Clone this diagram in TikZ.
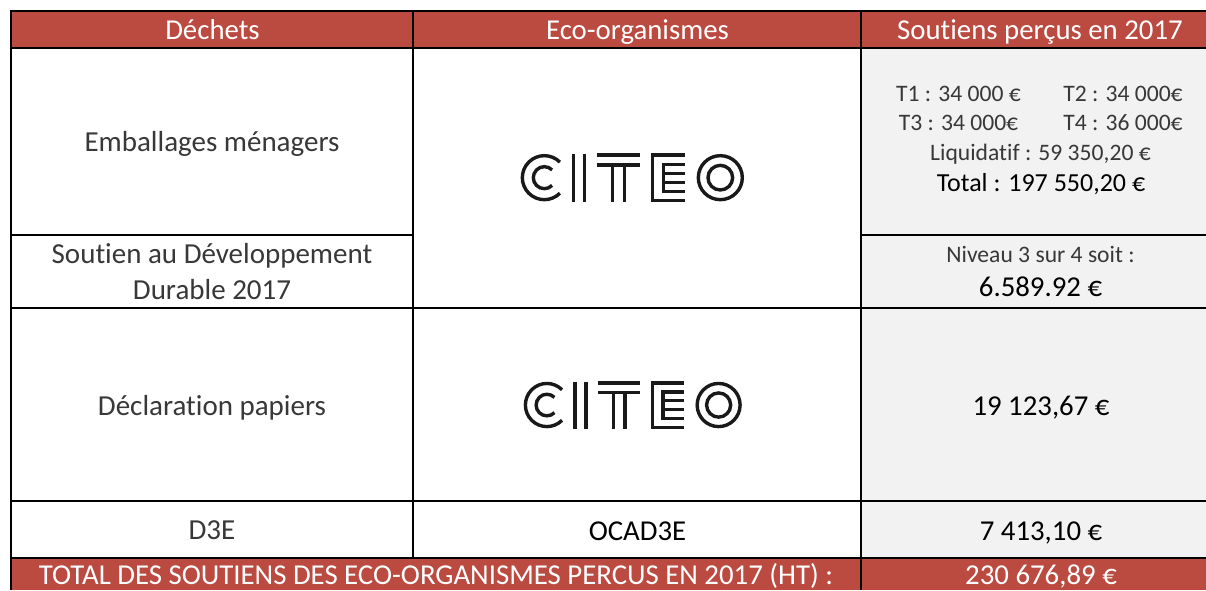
\documentclass[tikz,border=0pt]{standalone}
\usepackage{fontspec}
\setmainfont[Ligatures=NoCommon]{Carlito}
\definecolor{headred}{HTML}{BB4A41}
\definecolor{cellgray}{HTML}{F2F2F2}
\definecolor{lighttext}{HTML}{383838}
\newcommand{\fsz}[1]{\fontsize{#1}{#1}\selectfont}
\tikzset{
  rule/.style={line width=2pt,black},
  headtxt/.style={text=white,font=\fsz{28.8},inner sep=0pt,anchor=base},
  lighttxt/.style={text=lighttext,font=\fsz{29},inner sep=0pt,anchor=base},
  smalltxt/.style={text=lighttext,font=\fsz{23.6},inner sep=0pt,anchor=base},
  darktxt/.style={text=black,font=\fsz{28.8},inner sep=0pt,anchor=base},
  logoline/.style={line width=3.4pt,black!90},
}
\begin{document}
\begin{tikzpicture}[x=1pt,y=-1pt]
\useasboundingbox (0,0) rectangle (1206,590);
\fill[white] (0,0) rectangle (1206,590);
% fills
\fill[headred] (12,12) rectangle (1206,48);
\fill[headred] (12,557) rectangle (1206,590);
\fill[cellgray] (861,48) rectangle (1206,557);
% rules
\draw[rule] (10,11) -- (1206,11);
\draw[rule] (11,47.7) -- (1206,47.7);
\draw[rule] (11,235) -- (413,235);
\draw[rule] (861,235) -- (1206,235);
\draw[rule] (11,307.5) -- (1206,307.5);
\draw[rule] (11,501) -- (1206,501);
\draw[rule] (11,557.5) -- (1206,557.5);
\draw[rule] (11,10) -- (11,590);
\draw[rule] (413,10) -- (413,557.5);
\draw[rule] (861,10) -- (861,590);
% header
\node[headtxt] (h1) at (212.5,39.3) {Déchets};
\node[headtxt] (h2) at (637.5,39.3) {Eco-organismes};
\node[headtxt] (h3) at (1040,39.3) {Soutiens perçus en 2017};
% left column
\node[lighttxt] (c1) at (212,151) {Emballages ménagers};
\node[lighttxt] (c2a) at (212,263) {Soutien au Développement};
\node[lighttxt] (c2b) at (212,299) {Durable 2017};
\node[lighttxt] (c3) at (212,415) {Déclaration papiers};
\node[lighttxt] (c4) at (212,539.3) {D3E};
% middle
\node[darktxt] (m4) at (637.5,540) {OCAD3E};
% right
\node[smalltxt] (t1) at (958.5,101) {T1 : 34 000 €};
\node[smalltxt] (t2) at (1123,101) {T2 : 34 000€};
\node[smalltxt] (t3) at (958.5,130) {T3 : 34 000€};
\node[smalltxt] (t4) at (1123,130) {T4 : 36 000€};
\node[smalltxt] (liq) at (1040.5,160) {Liquidatif : 59 350,20 €};
\node[darktxt,font=\fsz{26}] (tot) at (1041,191.7) {Total : 197 550,20 €};
\node[smalltxt] (niv) at (1040.5,262) {Niveau 3 sur 4 soit :};
\node[darktxt] (v2) at (1040.5,296.7) {6.589.92 €};
\node[darktxt] (v3) at (1041,415) {19 123,67 €};
\node[darktxt] (v4) at (1041,540) {7 413,10 €};
% footer
\node[headtxt] (f1) at (436,584.5) {TOTAL DES SOUTIENS DES ECO-ORGANISMES PERCUS EN 2017 (HT) :};
\node[headtxt] (f2) at (1041,584.5) {230 676,89 €};
% logos, in units of the enlarged logo
\foreach \ox/\oy/\sx/\sy in {500/130/0.3333/0.3333, 503.6/358.3/0.3253/0.3267}{
\begin{scope}[shift={(\ox,\oy)},x=\sx pt,y=-\sy pt]
  \draw[logoline] (133,143) ++(45:66) arc[start angle=45,end angle=315,radius=66];
  \draw[logoline] (133,143) ++(45:33) arc[start angle=45,end angle=315,radius=33];
  \draw[logoline] (220,72) -- (220,215) (253,72) -- (253,215);
  \draw[logoline] (290,75) -- (420,75) (290,105) -- (420,105)
     (338,105) -- (338,215) (373,105) -- (373,215);
  \draw[logoline] (555,75) -- (458,75) -- (458,212) -- (555,212)
     (555,103) -- (490,103) -- (490,185) -- (555,185) (490,130) -- (555,130) (490,157) -- (555,157);
  \draw[logoline] (661,143) circle[radius=66] (661,143) circle[radius=37];
\end{scope}}
\end{tikzpicture}
\end{document}
